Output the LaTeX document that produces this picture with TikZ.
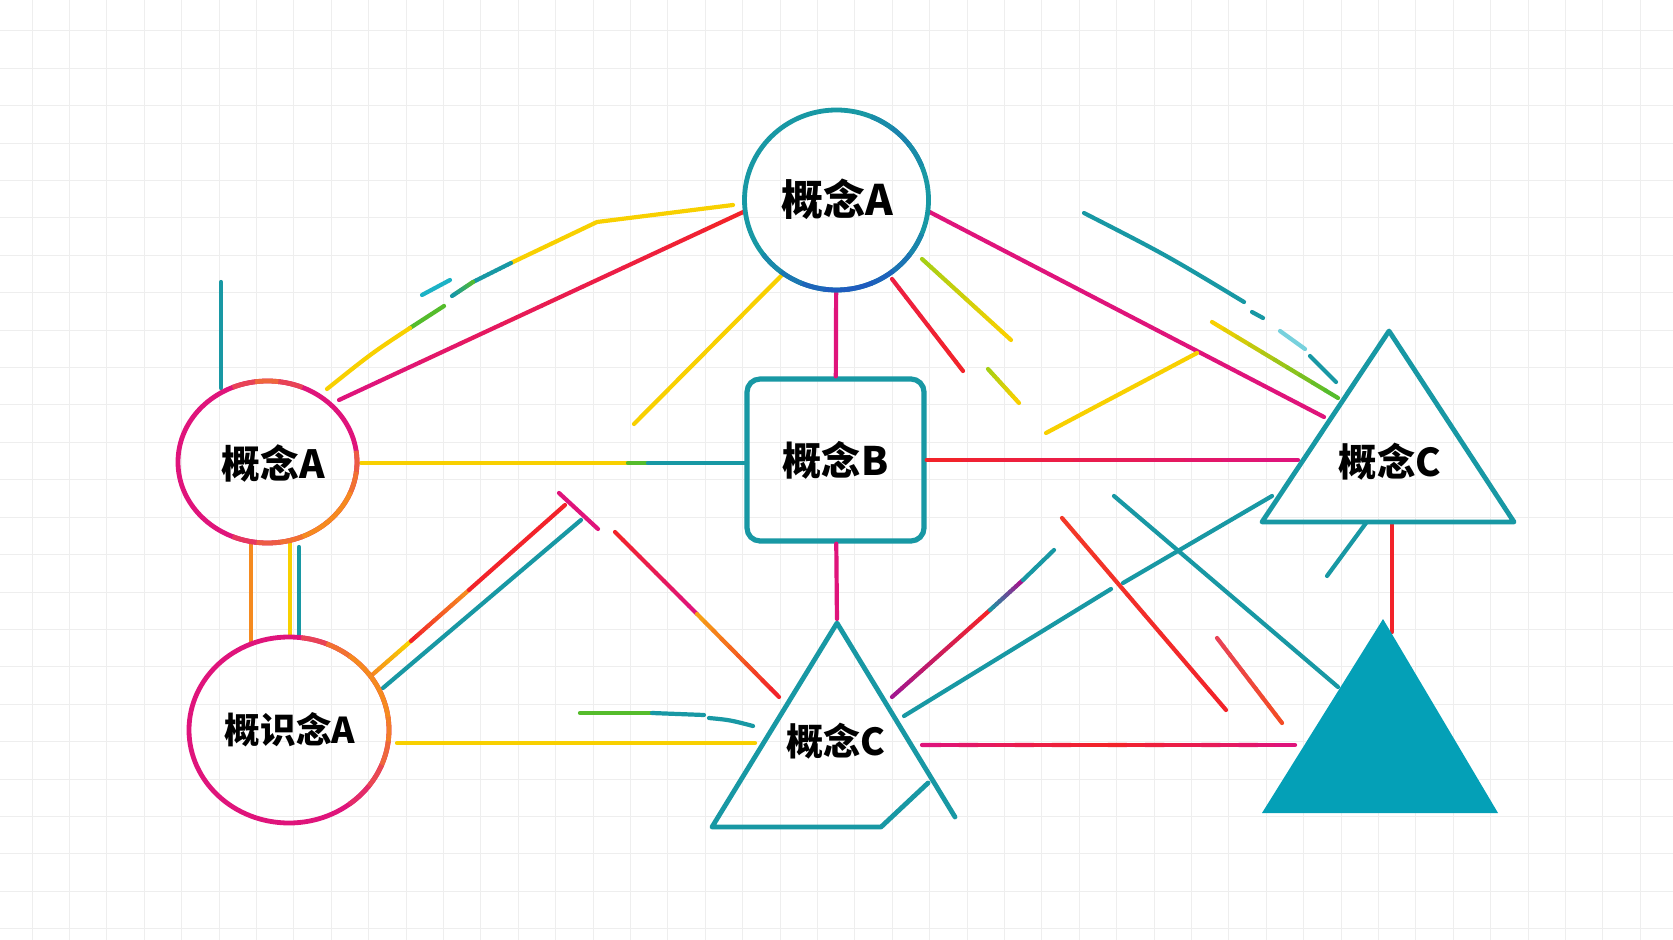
\documentclass[tikz,border=0pt]{standalone}
\usepackage{fontspec}
\usepackage{tikz}
\usetikzlibrary{calc,shapes.geometric}
\newfontfamily\cjk{Noto Sans CJK SC}

\definecolor{tealC}{HTML}{1898A4}
\definecolor{tealF}{HTML}{04A0B7}
\definecolor{cyanC}{HTML}{1CB2C6}
\definecolor{blueC}{HTML}{1F5CBE}
\definecolor{pinkC}{HTML}{DF147B}
\definecolor{redC}{HTML}{F2232A}
\definecolor{orangeC}{HTML}{F58A1F}
\definecolor{yellowC}{HTML}{F8D000}
\definecolor{greenC}{HTML}{55BC2C}
\definecolor{limeC}{HTML}{A6CF14}
\definecolor{purpleC}{HTML}{A3168E}
\definecolor{gridC}{HTML}{EEEEEE}

\tikzstyle{concept} = [font=\cjk\bfseries, inner sep=0pt, text=black]
\tikzstyle{edge} = [line width=2.1pt, line cap=round]
\tikzstyle{outline} = [line width=2.4pt, line join=round, line cap=round]
\newcommand{\csize}[1]{\fontsize{#1}{#1}\selectfont}

% stroke from #1 to #2 fading from colour #3 to colour #4
\newcommand{\gline}[4]{%
  \foreach \k in {0,...,9}{%
    \pgfmathsetmacro{\ta}{\k/10}%
    \pgfmathsetmacro{\tb}{(\k+1)/10}%
    \pgfmathtruncatemacro{\mixv}{100-\k*100/9}%
    \draw[edge, draw=#4!\mixv!#3] ($(#1)!\ta!(#2)$) -- ($(#1)!\tb!(#2)$);
  }}

% ring round node #1 (radii #2, #3), colour #4 with patches of #5 at angle/amount list #6
\newcommand{\ring}[6]{%
  \draw[outline, draw=#4] (#1.center) ellipse [x radius=#2, y radius=#3];
  \foreach \a/\m in {#6}{%
    \draw[outline, line cap=butt, draw=#5!\m!#4]
      ($(#1.center)+({#2*cos(\a-8)},{#3*sin(\a-8)})$)
      arc [start angle=\a-8, end angle=\a+8, x radius=#2, y radius=#3];
  }}

\begin{document}
\begin{tikzpicture}[x=0.5pt, y=-0.5pt]

\useasboundingbox (0,0) rectangle (1673,940);
\fill[white] (0,0) rectangle (1673,940);
\foreach \g in {0,...,44} \draw[gridC, line width=0.5pt] ({32+37.4*\g},0) -- ({32+37.4*\g},940);
\foreach \g in {0,...,24} \draw[gridC, line width=0.5pt] (0,{31+37.4*\g}) -- (1673,{31+37.4*\g});

% concepts
\node[ellipse, minimum width=92pt, minimum height=90pt] (topA) at (836.5,200) {};
\node[concept] (topAtxt) at (837,199) {\csize{21}概念A};
\node[ellipse, minimum width=89.5pt, minimum height=81pt] (leftA) at (267.5,462) {};
\node[concept] (leftAtxt) at (273,464) {\csize{19.4}概念A};
\node[ellipse, minimum width=100pt, minimum height=93pt] (lowA) at (289,730) {};
\node[concept] (lowAtxt) at (290,730) {\csize{17.8}概识念A};
\node[concept, draw=tealC, line width=2.6pt, rounded corners=6.5pt, minimum width=88.5pt, minimum height=81pt] (sqB) at (835.5,460) {\csize{19.6}概念B};
\node[concept] (rightC) at (1390,462) {\csize{19.2}概念C};
\node[concept] (midC) at (836,741) {\csize{18.6}概念C};

% triangle corners
\coordinate (rTop) at (1389,331); \coordinate (rRight) at (1514,522); \coordinate (rLeft) at (1262,522);
\coordinate (mTop) at (837,623); \coordinate (mLeft) at (712,827); \coordinate (mBase) at (881,827);
\coordinate (mKink) at (928,783); \coordinate (mTail) at (955,817);
\coordinate (fTop) at (1383,619); \coordinate (fRight) at (1498,813); \coordinate (fLeft) at (1262,813);

% loose ends
\coordinate (s1a) at (339,400);
\coordinate (y1) at (733,205); \coordinate (y2) at (597,222); \coordinate (y3) at (511,263);
\coordinate (y4) at (473,282); \coordinate (y5) at (452,296);
\coordinate (c1) at (422,295); \coordinate (c2) at (450,280);
\coordinate (y6) at (444,306); \coordinate (y7) at (410,328); \coordinate (y8) at (327,389);
\coordinate (t1a) at (221,282); \coordinate (t1b) at (221,388);
\coordinate (s4a) at (782,275); \coordinate (s4b) at (634,424);
\coordinate (s6a) at (892,279); \coordinate (s6b) at (963,371);
\coordinate (s7a) at (922,259); \coordinate (s7b) at (1011,340);
\coordinate (s7c) at (988,369); \coordinate (s7d) at (1019,403);
\coordinate (s8b) at (1324,417);
\coordinate (t9a) at (1084,213); \coordinate (t9b) at (1244,302);
\coordinate (t9c) at (1252,312); \coordinate (t9d) at (1263,318);
\coordinate (t9e) at (1280,331); \coordinate (t9f) at (1305,349);
\coordinate (t9g) at (1310,356); \coordinate (t9h) at (1336,382);
\coordinate (s10a) at (1212,322); \coordinate (s10b) at (1338,398);
\coordinate (s11a) at (1046,433); \coordinate (s11b) at (1197,353);
\coordinate (h1a) at (361,463); \coordinate (h1b) at (628,463);
\coordinate (h1c) at (648,463); \coordinate (h1d) at (747,463);
\coordinate (h2b) at (1298,460);
\coordinate (v1a) at (251,543); \coordinate (v1b) at (251,643);
\coordinate (v2a) at (290,543); \coordinate (v2b) at (290,637);
\coordinate (v3a) at (299,547); \coordinate (v3b) at (299,636);
\coordinate (d1a) at (372,675); \coordinate (d1m) at (411,641);
\coordinate (d1n) at (469,590); \coordinate (d1b) at (565,505);
\coordinate (d2a) at (383,688); \coordinate (d2b) at (581,520);
\coordinate (d3a) at (559,493); \coordinate (d3b) at (598,529);
\coordinate (d4a) at (615,532); \coordinate (d4m) at (697,614); \coordinate (d4b) at (779,697);
\coordinate (h3a) at (397,743); \coordinate (h3b) at (755,743);
\coordinate (g1) at (580,713); \coordinate (g2) at (652,713); \coordinate (g3) at (704,715);
\coordinate (g4) at (709,718); \coordinate (g5) at (753,726);
\coordinate (h4a) at (922,745); \coordinate (h4m) at (1108,745); \coordinate (h4b) at (1295,745);
\coordinate (e1a) at (892,697); \coordinate (e1m) at (990,610);
\coordinate (e1n) at (1023,580); \coordinate (e1b) at (1054,550);
\coordinate (e2a) at (904,716); \coordinate (e2b) at (1111,589);
\coordinate (e2c) at (1123,583); \coordinate (e2d) at (1272,496);
\coordinate (e3a) at (1114,496); \coordinate (e3b) at (1338,687);
\coordinate (e4a) at (1062,518); \coordinate (e4b) at (1226,710);
\coordinate (e5a) at (1217,638); \coordinate (e5b) at (1282,723);
\coordinate (e6a) at (1366,523); \coordinate (e6b) at (1327,576);
\coordinate (e7a) at (1392,524); \coordinate (e7b) at (1392,632);

% strokes round the top concept
\gline{topA.187}{s1a}{pinkC}{redC}
\draw[edge, yellowC] (y1) -- (y2) -- (y3);
\gline{y3}{y4}{tealC}{tealC}
\gline{y4}{y5}{tealC}{greenC}
\draw[edge, cyanC] (c1) -- (c2);
\draw[edge, greenC] (y6) -- (y7);
\draw[edge, yellowC] (y7) .. controls (372,353) .. (y8);
\draw[edge, tealC] (t1a) -- (t1b);
\draw[edge, yellowC] (s4a) -- (s4b);
\draw[edge, pinkC] (topA) -- (sqB);
\gline{s6a}{s6b}{redC}{redC!70!pinkC}
\gline{s7a}{s7b}{yellowC}{limeC}
\gline{s7c}{s7d}{yellowC}{limeC}
\draw[edge, pinkC] (topA.-7) -- (s8b);
\draw[edge, tealC] (t9a) .. controls (1166,255) .. (t9b);
\draw[edge, tealC] (t9c) -- (t9d);
\draw[edge, cyanC!60] (t9e) -- (t9f);
\draw[edge, tealC] (t9g) -- (t9h);
\gline{s10a}{s10b}{greenC}{yellowC}
\draw[edge, yellowC] (s11a) -- (s11b);

% middle row
\draw[edge, yellowC] (h1a) -- (h1b);
\draw[edge, greenC] (h1b) -- (h1c);
\draw[edge, tealC] (h1c) -- (h1d);
\gline{sqB.east}{h2b}{pinkC}{redC}
\draw[edge, pinkC, shorten >=2pt] (sqB) -- (mTop);

% between the two left concepts
\draw[edge, orangeC] (v1a) -- (v1b);
\draw[edge, yellowC] (v2a) -- (v2b);
\draw[edge, tealC] (v3a) -- (v3b);

% strokes round the lower concepts
\gline{d1a}{d1m}{yellowC}{orangeC}
\gline{d1m}{d1n}{orangeC}{redC}
\draw[edge, redC] (d1n) -- (d1b);
\draw[edge, tealC] (d2a) -- (d2b);
\draw[edge, pinkC] (d3a) -- (d3b);
\gline{d4a}{d4m}{pinkC}{redC}
\gline{d4m}{d4b}{redC}{orangeC!70!yellowC}
\draw[edge, yellowC] (h3a) -- (h3b);
\draw[edge, greenC] (g1) -- (g2);
\draw[edge, tealC] (g2) -- (g3);
\draw[edge, tealC] (g4) .. controls (730,720) .. (g5);
\gline{h4a}{h4m}{redC}{pinkC}
\gline{h4m}{h4b}{pinkC}{redC}
\gline{e1a}{e1m}{redC}{purpleC}
\gline{e1m}{e1n}{purpleC}{tealC}
\draw[edge, tealC] (e1n) -- (e1b);
\draw[edge, tealC] (e2a) -- (e2b);
\draw[edge, tealC] (e2c) -- (e2d);
\draw[edge, tealC] (e3a) -- (e3b);
\gline{e4a}{e4b}{redC}{redC!80!orangeC}
\gline{e5a}{e5b}{redC!60!orangeC}{pinkC}
\draw[edge, tealC] (e6a) -- (e6b);
\draw[edge, redC] (e7a) -- (e7b);

% shapes
\ring{topA}{92}{90}{tealC}{blueC}{30/30,45/60,60/90,75/100,90/100,105/85,120/55,135/25,300/20,315/35,330/20}
\ring{leftA}{89.5}{81}{pinkC}{orangeC}{0/60,15/80,30/100,45/100,60/100,75/80,90/60,105/30,255/40,270/70,285/40}
\ring{lowA}{100}{93}{pinkC}{orangeC}{285/40,300/80,315/100,330/100,345/100,0/90,15/70,30/45,45/20}
\draw[outline, tealC] (rTop) -- (rRight) -- (rLeft) -- cycle;
\draw[outline, tealC] (mTail) -- (mTop) -- (mLeft) -- (mBase) -- (mKink);
\fill[tealF] (fTop) -- (fRight) -- (fLeft) -- cycle;

\end{tikzpicture}
\end{document}
